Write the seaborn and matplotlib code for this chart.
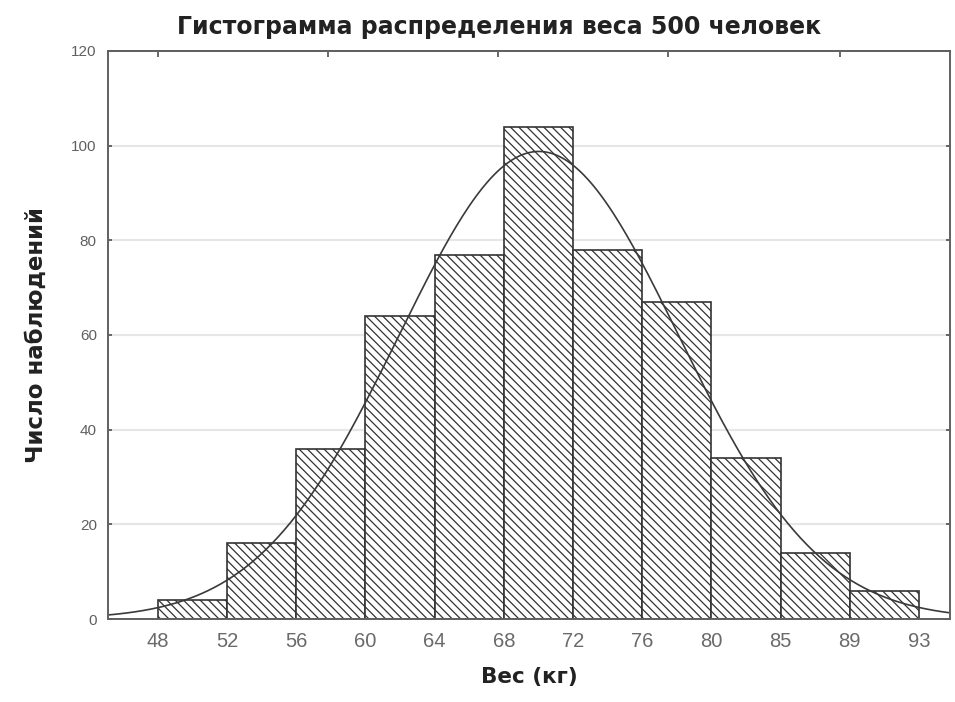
import numpy as np
import pandas as pd
import matplotlib
matplotlib.use("Agg")
import matplotlib.pyplot as plt
import seaborn as sns

# ---- data ----
edge_labels = ["48", "52", "56", "60", "64", "68", "72", "76", "80", "85", "89", "93"]
counts = [4, 16, 36, 64, 77, 104, 78, 67, 34, 14, 6]
y_ticks = [0, 20, 40, 60, 80, 100, 120]
title = "Гистограмма распределения веса 500 человек"
xlabel = "Вес (кг)"
ylabel = "Число наблюдений"

sns.set_theme(style="white")
plt.rcParams['font.family'] = ['Liberation Sans', 'DejaVu Sans']
plt.rcParams['hatch.linewidth'] = 0.9
plt.rcParams['hatch.color'] = '#404040'

n_bins = len(counts)
edges = [float(i) for i in range(n_bins + 1)]
centers = np.arange(n_bins) + 0.5
df = pd.DataFrame({"bin": centers, "count": np.array(counts, dtype=float)})

fig = plt.figure(figsize=(9.55, 7.02), dpi=100)
ax = fig.add_axes([0.113, 0.1182, 0.882, 0.8092])

sns.histplot(data=df, x="bin", weights="count", bins=edges, ax=ax,
             color="white", edgecolor="#333333", linewidth=1.2, alpha=1.0)
for p in ax.patches:
    p.set_hatch("\\\\\\\\")
    p.set_facecolor("white")

# fitted normal curve computed from the binned counts
cnt = np.array(counts, dtype=float)
N = cnt.sum()
mu = (cnt * centers).sum() / N
sd = np.sqrt((cnt * (centers - mu) ** 2).sum() / N)
xs = np.linspace(-0.75, 11.5, 400)
ys = N / (sd * np.sqrt(2 * np.pi)) * np.exp(-0.5 * ((xs - mu) / sd) ** 2)
sns.lineplot(x=xs, y=ys, ax=ax, color="#3a3a3a", linewidth=1.2)

ax.set_xlim(-0.72, 11.45)
ax.set_ylim(0, 120)
ax.set_yticks(y_ticks)
ax.set_yticklabels([str(v) for v in y_ticks], fontsize=11, color="#606060")
ax.set_xticks(edges)
ax.set_xticklabels(edge_labels, fontsize=14.5, color="#6a6a6a")
ax.tick_params(axis="x", length=0, pad=9)
ax.tick_params(axis="y", direction="in", length=3, left=True, right=True, pad=8, color="#555555")
ax.yaxis.grid(True, color="#e6e6e6", linewidth=1.5)
ax.set_axisbelow(True)
for s in ax.spines.values():
    s.set_color("#606060")
    s.set_linewidth(1.4)

top = ax.secondary_xaxis("top")
top.set_xticks([0, 2.46, 4.91, 7.37, 9.86])
top.set_xticklabels([])
top.tick_params(direction="in", length=4, color="#555555")

ax.set_xlabel(xlabel, fontsize=15.5, fontweight="bold", color="#222222", labelpad=12,
              family=["DejaVu Sans"])
ax.set_ylabel(ylabel, fontsize=16.5, fontweight="bold", color="#222222", labelpad=17,
              family=["DejaVu Sans"])
fig.text(0.5225, 0.9615, title, ha="center", va="center", fontsize=17,
         fontweight="bold", color="#222222", family=["DejaVu Sans"])

fig.savefig("out.png", dpi=100)
